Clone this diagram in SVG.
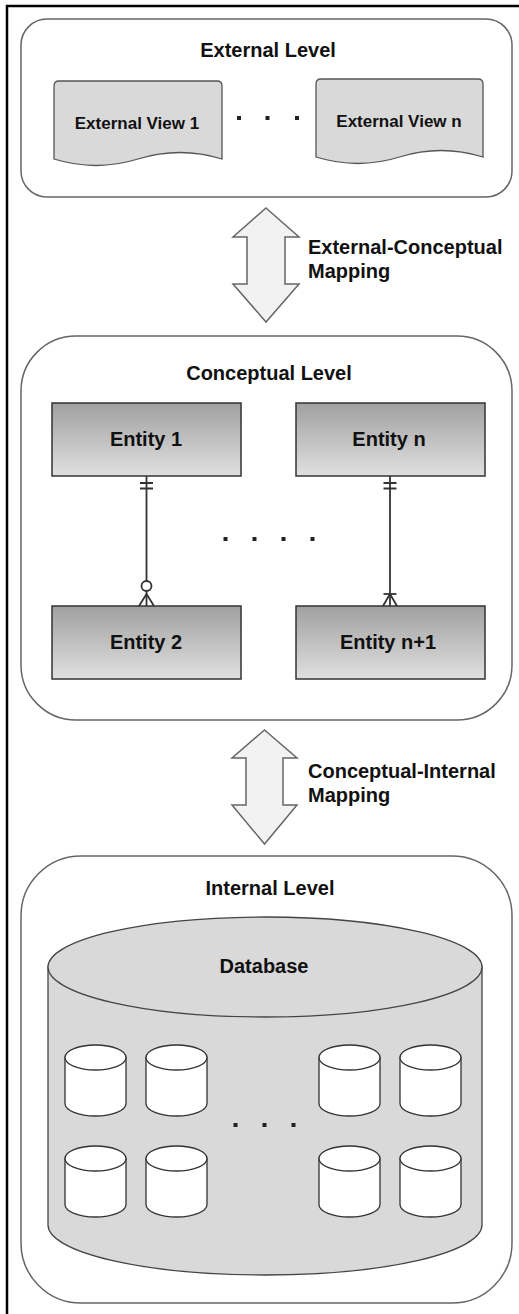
<svg xmlns="http://www.w3.org/2000/svg" width="519" height="1314" viewBox="0 0 519 1314">
  <style>
    .lvl{fill:#fff;stroke:#666;stroke-width:1.5}
    .t{font-family:"Liberation Sans",Arial,Helvetica,sans-serif;font-weight:bold;fill:#111}
    .big{font-size:20px}
    .mid{font-size:17px}
    .c{text-anchor:middle}
    .arrow{fill:#f2f2f2;stroke:#666;stroke-width:1.5;stroke-linejoin:miter}
    .doc{fill:#d9d9d9;stroke:#555;stroke-width:1.3}
    .ent{fill:url(#entGrad);stroke:#333;stroke-width:1.5}
    .er{fill:none;stroke:#333;stroke-width:1.8}
    .dot{fill:#222}
    .cyl{fill:#fff;stroke:#333;stroke-width:1.3}
    .db{fill:#d9d9d9;stroke:#444;stroke-width:1.3}
  </style>
  <defs>
    <linearGradient id="entGrad" x1="0" y1="0" x2="0" y2="1">
      <stop offset="0" stop-color="#a0a0a0"/>
      <stop offset="1" stop-color="#e0e0e0"/>
    </linearGradient>
    <g id="smallCyl">
      <path class="cyl" d="M0,12.5 V58.5 A30.5,12.5 0 0 0 61,58.5 V12.5 Z"/>
      <ellipse class="cyl" cx="30.5" cy="12.5" rx="30.5" ry="12.5"/>
    </g>
  </defs>

  <!-- outer frame -->
  <rect x="7" y="6" width="600" height="1400" fill="#fff" stroke="#000" stroke-width="2.5"/>

  <!-- External Level -->
  <g id="external-level">
    <rect class="lvl" x="21" y="19" width="491" height="178" rx="26" ry="26"/>
    <text class="t big c" x="268" y="57">External Level</text>
  </g>
  <g id="external-view-1">
    <path class="doc" d="M54,86 Q54,81 59,81 H217 Q222,81 222,86 V159 Q180,146 138,159 Q96,172 54,159 Z"/>
    <text class="t mid c" x="137" y="129">External View 1</text>
  </g>
  <g id="external-view-n">
    <path class="doc" d="M316,84 Q316,79 321,79 H478 Q483,79 483,84 V157 Q441,144 399.5,157 Q358,170 316,157 Z"/>
    <text class="t mid c" x="399" y="127">External View n</text>
  </g>
  <g id="external-dots">
    <rect class="dot" x="237" y="116" width="4" height="4"/>
    <rect class="dot" x="265.5" y="116" width="4" height="4"/>
    <rect class="dot" x="295" y="116" width="4" height="4"/>
  </g>

  <!-- External-Conceptual Mapping -->
  <g id="ext-conc-mapping">
    <path class="arrow" d="M266,208 L299,237 L285,237 L285,284 L299,284 L266,322 L233,284 L247,284 L247,237 L233,237 Z"/>
    <text class="t big" x="308" y="254">External-Conceptual</text>
    <text class="t big" x="308" y="278">Mapping</text>
  </g>

  <!-- Conceptual Level -->
  <g id="conceptual-level">
    <rect class="lvl" x="21" y="336" width="491" height="384" rx="55" ry="55"/>
    <text class="t big c" x="269" y="380">Conceptual Level</text>
  </g>
  <g id="entity-1">
    <rect class="ent" x="52" y="403" width="189" height="73"/>
    <text class="t big c" x="146" y="446">Entity 1</text>
  </g>
  <g id="entity-n">
    <rect class="ent" x="296" y="403" width="189" height="73"/>
    <text class="t big c" x="389" y="446">Entity n</text>
  </g>
  <g id="entity-2">
    <rect class="ent" x="52" y="606" width="189" height="73"/>
    <text class="t big c" x="146" y="649">Entity 2</text>
  </g>
  <g id="entity-n1">
    <rect class="ent" x="296" y="606" width="189" height="73"/>
    <text class="t big c" x="388" y="649">Entity n+1</text>
  </g>
  <g id="conceptual-dots">
    <rect class="dot" x="223.5" y="537" width="4" height="4"/>
    <rect class="dot" x="252.5" y="537" width="4" height="4"/>
    <rect class="dot" x="281.5" y="537" width="4" height="4"/>
    <rect class="dot" x="310.5" y="537" width="4" height="4"/>
  </g>

  <!-- ER connectors -->
  <g id="connectors">
    <g id="edge-e1-e2">
      <path class="er" d="M146.5,476 V606"/>
      <path class="er" d="M140,483 H153 M140,488.5 H153"/>
      <circle cx="146.5" cy="586" r="5" fill="#fff" stroke="#333" stroke-width="1.8"/>
      <path class="er" d="M146.5,594 L139,606 M146.5,594 L154,606"/>
    </g>
    <g id="edge-en-en1">
      <path class="er" d="M390,476 V606"/>
      <path class="er" d="M383.5,483 H396.5 M383.5,488.5 H396.5"/>
      <path class="er" d="M383.5,594 H396.5"/>
      <path class="er" d="M390,594 L383,606 M390,594 L397,606"/>
    </g>
  </g>

  <!-- Conceptual-Internal Mapping -->
  <g id="conc-int-mapping">
    <path class="arrow" d="M264.5,730 L297,758 L283,758 L283,805 L297,805 L264.5,844 L232,805 L246,805 L246,758 L232,758 Z"/>
    <text class="t big" x="308" y="778">Conceptual-Internal</text>
    <text class="t big" x="308" y="802">Mapping</text>
  </g>

  <!-- Internal Level -->
  <g id="internal-level">
    <rect class="lvl" x="21" y="856" width="491" height="447" rx="60" ry="60"/>
    <text class="t big c" x="270" y="895">Internal Level</text>
  </g>
  <g id="database">
    <path class="db" d="M48,967 V1225 A217,50 0 0 0 482,1225 V967 Z"/>
    <ellipse class="db" cx="265" cy="967" rx="217" ry="50"/>
    <text class="t big c" x="264" y="973">Database</text>
  </g>
  <g id="storage-1-1"><use href="#smallCyl" x="65" y="1045"/></g>
  <g id="storage-1-2"><use href="#smallCyl" x="146" y="1045"/></g>
  <g id="storage-1-3"><use href="#smallCyl" x="319" y="1045"/></g>
  <g id="storage-1-4"><use href="#smallCyl" x="400" y="1045"/></g>
  <g id="storage-2-1"><use href="#smallCyl" x="65" y="1146"/></g>
  <g id="storage-2-2"><use href="#smallCyl" x="146" y="1146"/></g>
  <g id="storage-2-3"><use href="#smallCyl" x="319" y="1146"/></g>
  <g id="storage-2-4"><use href="#smallCyl" x="400" y="1146"/></g>
  <g id="internal-dots">
    <rect class="dot" x="233.5" y="1123" width="4" height="4"/>
    <rect class="dot" x="262.5" y="1123" width="4" height="4"/>
    <rect class="dot" x="291.5" y="1123" width="4" height="4"/>
  </g>
</svg>
